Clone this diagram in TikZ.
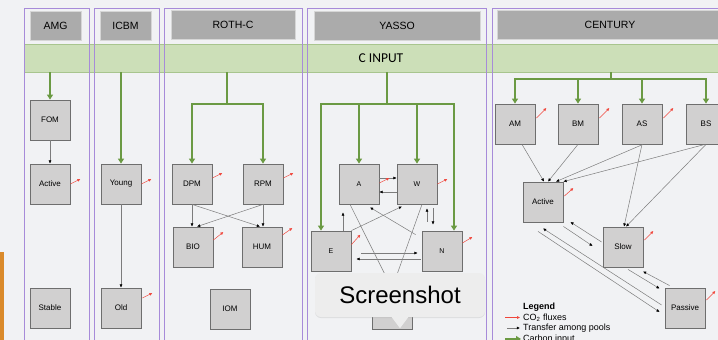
\documentclass[tikz,border=0pt]{standalone}
\usepackage{fontspec}
\setmainfont{Liberation Sans}
\newfontfamily\calibri{Carlito}
\usetikzlibrary{arrows.meta,calc,shadows}

\definecolor{bgc}{HTML}{F1F2F4}
\definecolor{panelc}{HTML}{A78BD9}
\definecolor{headc}{HTML}{ABABAB}
\definecolor{headl}{HTML}{D6D6D6}
\definecolor{bandc}{HTML}{CCDFB8}
\definecolor{bandl}{HTML}{A8C58E}
\definecolor{poolc}{HTML}{D1D0D0}
\definecolor{poolb}{HTML}{6E6E6E}
\definecolor{cinc}{HTML}{6B9A43}
\definecolor{xferc}{HTML}{7C7C7C}
\definecolor{co2c}{HTML}{F0453A}
\definecolor{tipc}{HTML}{EDEDED}
\definecolor{orangec}{HTML}{DA8A2B}

\tikzset{
  panel/.style={draw=panelc, line width=0.9pt},
  header/.style={fill=headc, draw=headl, line width=0.6pt, minimum height=29pt, inner sep=0pt, font=\fontsize{10.5}{12}\selectfont},
  pool/.style={fill=poolc, draw=poolb, line width=0.8pt, minimum width=40pt, minimum height=40pt, inner sep=0pt, font=\fontsize{8}{9}\selectfont},
  ypool/.style={pool, font=\fontsize{7}{8}\selectfont},
  cin/.style={draw=cinc, line width=1.6pt, -{Triangle[length=5pt,width=6pt]}},
  cinl/.style={draw=cinc, line width=1.6pt},
  xfer/.style={draw=xferc, line width=0.5pt, -{Latex[length=3.2pt,width=3pt,color=black]}},
  co2/.style={draw=co2c, line width=0.5pt, -{Latex[length=3pt,width=3pt]}},
  legtxt/.style={anchor=west, inner sep=0pt, font=\fontsize{9}{10}\selectfont},
}

\begin{document}
\begin{tikzpicture}[x=1pt,y=-1pt]
  \useasboundingbox (0,0) rectangle (718,340);
  \fill[bgc] (0,0) rectangle (718,340);
  \fill[orangec] (0,252) rectangle (4,340);

  % input band and panels
  \node[fill=bandc, draw=bandl, line width=0.6pt, minimum width=714pt, minimum height=28pt, inner sep=0pt,
        font=\calibri\fontsize{13.5}{15}\selectfont] (band) at (381,58) {C INPUT};
  \draw[panel] (24,8) rectangle (89,350);
  \draw[panel] (94,8) rectangle (159,350);
  \draw[panel] (164,8) rectangle (302,350);
  \draw[panel] (307,8) rectangle (486,350);
  \draw[panel] (492,8) rectangle (740,350);

  \node[header, minimum width=51pt] (hamg) at (55.5,25.5) {AMG};
  \node[header, minimum width=51pt] (hicbm) at (125.5,25.5) {ICBM};
  \node[header, minimum width=124pt] (hroth) at (233,25) {ROTH-C};
  \node[header, minimum width=166pt] (hyasso) at (397,26) {YASSO};
  \node[header, minimum width=226pt] (hcent) at (610,25) {CENTURY};

  % AMG
  \node[pool] (fom) at (50,120) {FOM};
  \node[pool] (act1) at (50,184) {Active};
  \node[pool] (stable) at (50,308) {Stable};
  \draw[cin] (band.south -| fom) -- (fom);
  \draw[xfer] (fom) -- (act1);
  \draw[co2] (act1.east) -- ++(10,-5);

  % ICBM
  \node[pool] (young) at (121,184) {Young};
  \node[pool] (old) at (121,308) {Old};
  \draw[cin] (band.south -| young) -- (young);
  \draw[xfer] (young) -- (old);
  \draw[co2] (young.east) -- ++(10,-5);
  \draw[co2] ($(old.east)+(1,-10)$) -- ++(10,-5);

  % ROTH-C
  \node[pool] (dpm) at (192,184) {DPM};
  \node[pool] (rpm) at (263,184) {RPM};
  \node[pool] (bio) at (193,247) {BIO};
  \node[pool] (hum) at (262,247) {HUM};
  \node[pool] (iom) at (230,309) {IOM};
  \coordinate (rothsplit) at (227,104);
  \draw[cinl] (band.south -| rothsplit) -- (rothsplit);
  \draw[cin] (rothsplit) -| (dpm);
  \draw[cin] (rothsplit) -| (rpm);
  \draw[xfer] (dpm.south) -- ($(bio.north)+(-1,0)$);
  \draw[xfer] (rpm.south) -- ($(bio.north)+(4,0)$);
  \draw[xfer] (dpm.south) -- ($(hum.north)+(-2,0)$);
  \draw[xfer] (rpm.south) -- ($(hum.north)+(1,0)$);
  \draw[co2] ($(dpm.east)+(0,-6)$) -- ++(10,-5);
  \draw[co2] ($(rpm.east)+(0,-6)$) -- ++(10,-5);
  \draw[co2] ($(bio.east)+(0,-7)$) -- ++(10,-8);
  \draw[co2] ($(hum.east)+(0,-12)$) -- ++(10,-7);

  % YASSO
  \node[ypool] (a) at (359,184) {A};
  \node[ypool] (w) at (417,184) {W};
  \node[ypool] (e) at (331,251) {E};
  \node[ypool] (n) at (442,251) {N};
  \node[pool] (hid) at (392,309) {};
  \coordinate (yassosplit) at (387,104);
  \draw[cinl] (band.south -| yassosplit) -- (yassosplit);
  \draw[cin] (yassosplit) -| (a);
  \draw[cin] (yassosplit) -| (w);
  \draw[cin] (yassosplit) -| ([xshift=-10pt]e.north);
  \draw[cin] (yassosplit) -| ([xshift=12pt]n.north);
  \draw[xfer] ([yshift=6pt]a.east) -- ([yshift=6pt]w.west);
  \draw[xfer] ([yshift=-8pt]w.west) -- ([yshift=-8pt]a.east);
  \draw[xfer] ([xshift=12pt]e.north) -- ($(a.south)+(-16,8)$);
  \draw[xfer] (e.north east) -- ($(w.south)+(-15,2)$);
  \draw[xfer] ($(n.north west)+(-6,4)$) -- ($(a.south)+(11,3)$);
  \draw[xfer] ($(n.north)+(-15,-9)$) -- ($(w.south)+(10,4)$);
  \draw[xfer] ($(w.south)+(16,4)$) -- ($(n.north)+(-9,-6)$);
  \draw[xfer] ($(e.east)+(10,2)$) -- ($(n.west)+(-4,2)$);
  \draw[xfer] ($(n.west)+(-1,8)$) -- ($(e.east)+(5,8)$);
  \draw[xfer] ($(a.south)+(-9,0)$) -- (hid.north);
  \draw[xfer] ($(w.south)+(5,0)$) -- (hid.north);
  \draw[co2] ($(a.east)+(0,-1)$) -- ++(10,-5);
  \draw[co2] (w.east) -- ++(10,-5);
  \draw[co2] ($(e.north east)+(0,14)$) -- ++(9,-10);
  \draw[co2] ($(n.east)+(0,-8)$) -- ++(10,-6);

  % CENTURY
  \node[pool] (am) at (515,124) {AM};
  \node[pool] (bm) at (578,124) {BM};
  \node[pool] (as) at (642,124) {AS};
  \node[pool] (bs) at (706,124) {BS};
  \node[pool] (act) at (543,202) {Active};
  \node[pool] (slow) at (623,247) {Slow};
  \node[pool] (passive) at (685,308) {Passive};
  \coordinate (censplit) at (611,79);
  \draw[cinl] (band.south -| censplit) -- (censplit);
  \foreach \p in {am,bm,as,bs}
    \draw[cin] (censplit) -| (\p);
  \draw[xfer] ($(am.south)+(7,0)$) -- ($(act.north)+(1,0)$);
  \draw[xfer] (bm.south) -- ($(act.north)+(5,0)$);
  \draw[xfer] ($(as.south)+(1,0)$) -- ($(act.north)+(13,0)$);
  \draw[xfer] ($(bs.south)+(-1,0)$) -- (act.north east);
  \draw[xfer] (as.south) -- ($(slow.north)+(1,0)$);
  \draw[xfer] (bs.south) -- ($(slow.north)+(3,0)$);
  \draw[xfer] ($(act.south east)+(0,4)$) -- ($(slow.west)+(-10,-1)$);
  \draw[xfer] ($(slow.west)+(-1,-5)$) -- ($(act.east)+(7,20)$);
  \draw[xfer] ($(slow.south)+(5,2)$) -- ($(passive.north west)+(-5,1)$);
  \draw[xfer] ($(passive.north west)+(5,-2)$) -- ($(slow.south)+(20,4)$);
  \draw[xfer] ($(act.south)+(-5,9)$) -- ($(passive.west)+(-5,4)$);
  \draw[xfer] ($(passive.west)+(-3,-3)$) -- ($(act.south)+(0,6)$);
  \draw[co2] ($(am.east)+(1,-6)$) -- ++(10,-10);
  \draw[co2] ($(bm.east)+(1,-6)$) -- ++(10,-10);
  \draw[co2] ($(as.east)+(1,-6)$) -- ++(10,-10);
  \draw[co2] ($(act.east)+(1,-6)$) -- ++(9,-8);
  \draw[co2] ($(slow.east)+(1,-7)$) -- ++(9,-9);
  \draw[co2] ($(passive.east)+(1,-8)$) -- ++(9,-9);

  % legend
  \node[legtxt] (legtitle) at (523,307) {\textbf{Legend}};
  \node[legtxt] (lco2) at (523,317.5) {CO\textsubscript{2} fluxes};
  \node[legtxt] (lxfer) at (523,328) {Transfer among pools};
  \node[legtxt] (lcin) at (523,339) {Carbon input};
  \draw[co2] ($(lco2.west)+(-18,0)$) -- ($(lco2.west)+(-3,0)$);
  \draw[xfer] ($(lxfer.west)+(-16,0)$) -- ($(lxfer.west)+(-3,0)$);
  \draw[cin] ($(lcin.west)+(-18,0)$) -- ($(lcin.west)+(-2,0)$);

  % screenshot tooltip
  \node[fill=tipc, rounded corners=6pt, minimum width=170pt, minimum height=44pt,
        drop shadow={opacity=0.18, shadow xshift=0pt, shadow yshift=-1pt},
        font=\fontsize{24}{27}\selectfont] (tip) at (400,295) {Screenshot};
  \fill[tipc] ($(tip.south)+(-9,-1)$) -- ($(tip.south)+(0,11)$) -- ($(tip.south)+(9,-1)$) -- cycle;
\end{tikzpicture}
\end{document}
